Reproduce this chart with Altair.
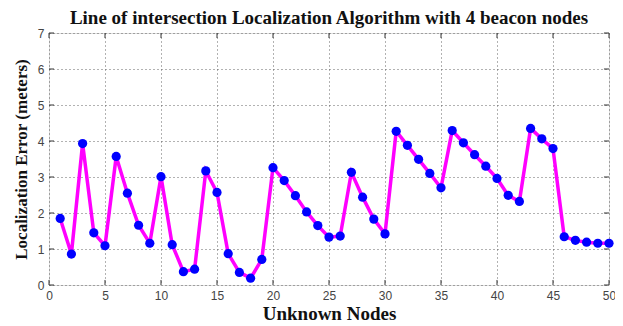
import altair as alt
import pandas as pd

nodes = list(range(1, 51))
errors = [1.85, 0.86, 3.93, 1.45, 1.09, 3.57, 2.55, 1.66, 1.16, 3.01,
          1.12, 0.37, 0.44, 3.17, 2.57, 0.87, 0.35, 0.19, 0.71, 3.26,
          2.90, 2.48, 2.03, 1.65, 1.33, 1.36, 3.13, 2.44, 1.83, 1.42,
          4.27, 3.88, 3.49, 3.10, 2.70, 4.29, 3.95, 3.62, 3.30, 2.96,
          2.49, 2.32, 4.35, 4.06, 3.79, 1.34, 1.24, 1.19, 1.16, 1.16]
x_ticks = list(range(0, 51, 5))
y_ticks = list(range(0, 8))

df = pd.DataFrame({"node": nodes, "err": errors})

xs = alt.Scale(domain=[0, 50], nice=False, zero=False)
ys = alt.Scale(domain=[0, 7], nice=False)

common = dict(grid=True, gridDash=[1, 3], gridColor="#555", gridOpacity=0.9,
              ticks=False, domain=False, labelFont="Liberation Sans", labelFontSize=12,
              labelColor="#444", labelPadding=5, labelOverlap=False, labelFlush=False,
              labelBound=False, titleFont="Liberation Serif",
              titleFontWeight="bold", titleColor="#111")
xax = alt.Axis(values=x_ticks, title="Unknown Nodes", titlePadding=3, titleFontSize=19, **common)
yax = alt.Axis(values=y_ticks, title="Localization Error (meters)", titlePadding=7,
               titleFontSize=17, **common)

line = alt.Chart(df).mark_line(color="#FF00FF", strokeWidth=3.5).encode(
    x=alt.X("node:Q", scale=xs, axis=xax),
    y=alt.Y("err:Q", scale=ys, axis=yax),
)
pts = alt.Chart(df).mark_circle(color="#0000FF", opacity=1, size=85).encode(
    x=alt.X("node:Q", scale=xs, axis=xax),
    y=alt.Y("err:Q", scale=ys, axis=yax),
)

xt = pd.DataFrame({"t": x_ticks})
yt = pd.DataFrame({"t": y_ticks})
tick_bottom = alt.Chart(xt).mark_rule(color="#333", strokeWidth=1).encode(
    x=alt.X("t:Q", scale=xs, axis=xax),
    y=alt.YDatum(0, scale=ys, axis=yax), y2=alt.Y2Datum(0.14))
tick_top = alt.Chart(xt).mark_rule(color="#333", strokeWidth=1).encode(
    x=alt.X("t:Q", scale=xs, axis=xax),
    y=alt.YDatum(7, scale=ys, axis=yax), y2=alt.Y2Datum(6.86))
tick_left = alt.Chart(yt).mark_rule(color="#333", strokeWidth=1).encode(
    y=alt.Y("t:Q", scale=ys, axis=yax),
    x=alt.XDatum(0, scale=xs, axis=xax), x2=alt.X2Datum(0.45))
tick_right = alt.Chart(yt).mark_rule(color="#333", strokeWidth=1).encode(
    y=alt.Y("t:Q", scale=ys, axis=yax),
    x=alt.XDatum(50, scale=xs, axis=xax), x2=alt.X2Datum(49.55))

chart = alt.layer(line, pts, tick_bottom, tick_top, tick_left, tick_right).properties(
    width=560, height=252,
    title=alt.TitleParams("Line of intersection Localization Algorithm with 4 beacon nodes",
                          font="Liberation Serif", fontSize=19, fontWeight="bold",
                          color="#111", offset=-1),
    autosize=alt.AutoSizeParams(type="none"),
    padding={"left": 41, "top": 25, "right": 6, "bottom": 40},
).configure_view(stroke="#444", strokeWidth=1.2).configure(background="white")

chart.save("out.html", embed_options={"renderer": "svg", "actions": False})
